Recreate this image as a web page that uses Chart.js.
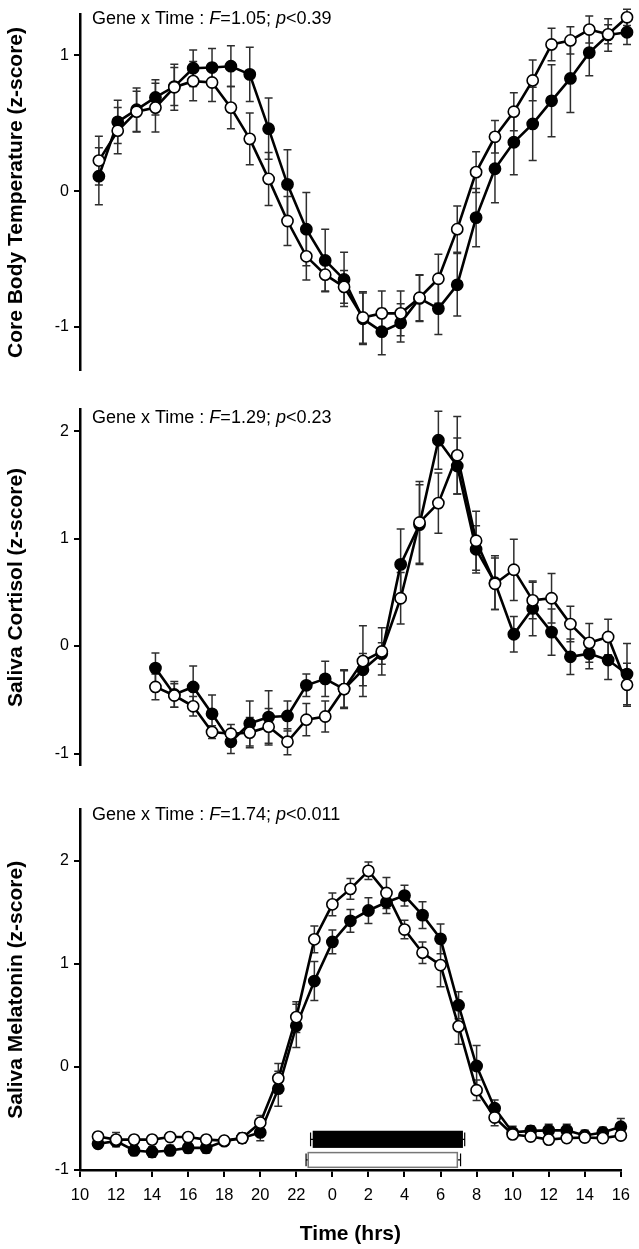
<!DOCTYPE html>
<html><head><meta charset="utf-8">
<script src="https://cdn.jsdelivr.net/npm/chart.js@4.4.1/dist/chart.umd.min.js"></script>
<style>
html,body{margin:0;padding:0;background:#fff;}
body{width:639px;height:1249px;position:relative;overflow:hidden;}
canvas{position:absolute;left:0;}
</style></head><body>
<canvas id="c1" width="639" height="385" style="top:0px;width:639px;height:385px"></canvas>
<canvas id="c2" width="639" height="385" style="top:395px;width:639px;height:385px"></canvas>
<canvas id="c3" width="639" height="454" style="top:795px;width:639px;height:454px"></canvas>
<script>
// ---------- DATA ----------
// Core body temperature (z-score), hourly 11:00 -> 15:00 next day
const tempHours = [11,12,13,14,15,16,17,18,19,20,21,22,23,24,25,26,27,28,29,30,31,32,33,34,35,36,37,38,39];
const tempFilled = [0.11,0.51,0.60,0.69,0.77,0.905,0.91,0.92,0.86,0.46,0.05,-0.28,-0.51,-0.65,-0.94,-1.035,-0.97,-0.79,-0.865,-0.69,-0.195,0.165,0.36,0.495,0.665,0.83,1.02,1.15,1.17];
const tempFilledSem = [0.21,0.16,0.16,0.13,0.14,0.135,0.14,0.15,0.2,0.225,0.255,0.27,0.23,0.2,0.19,0.17,0.14,0.17,0.19,0.23,0.215,0.25,0.24,0.27,0.265,0.25,0.17,0.12,0.09];
const tempOpen = [0.225,0.445,0.585,0.615,0.765,0.81,0.80,0.615,0.385,0.09,-0.22,-0.48,-0.615,-0.705,-0.93,-0.90,-0.90,-0.785,-0.645,-0.28,0.14,0.40,0.585,0.815,1.08,1.11,1.19,1.155,1.28];
const tempOpenSem = [0.18,0.17,0.15,0.18,0.17,0.145,0.14,0.155,0.19,0.195,0.18,0.175,0.12,0.12,0.19,0.165,0.165,0.17,0.18,0.17,0.15,0.12,0.14,0.15,0.12,0.10,0.10,0.07,0.06];

// Saliva cortisol (z-score), hourly 14:00 -> 15:00 next day
const cortHours = [14,15,16,17,18,19,20,21,22,23,24,25,26,27,28,29,30,31,32,33,34,35,36,37,38,39];
const cortFilled = [-0.205,-0.45,-0.38,-0.63,-0.89,-0.72,-0.66,-0.65,-0.365,-0.305,-0.40,-0.22,-0.07,0.76,1.13,1.915,1.675,0.90,0.59,0.11,0.35,0.13,-0.10,-0.07,-0.13,-0.26];
const cortFilledSem = [0.14,0.12,0.195,0.175,0.11,0.21,0.245,0.14,0.105,0.165,0.18,0.15,0.1,0.33,0.37,0.27,0.26,0.22,0.25,0.165,0.255,0.215,0.165,0.14,0.18,0.285];
const cortOpen = [-0.38,-0.46,-0.56,-0.80,-0.815,-0.805,-0.75,-0.89,-0.685,-0.655,-0.40,-0.14,-0.05,0.445,1.15,1.33,1.775,0.98,0.58,0.71,0.425,0.445,0.205,0.03,0.085,-0.36];
const cortOpenSem = [0.12,0.11,0.09,0.06,0.085,0.14,0.17,0.12,0.15,0.145,0.17,0.33,0.22,0.24,0.38,0.28,0.36,0.275,0.24,0.285,0.17,0.23,0.165,0.18,0.165,0.2];

// Saliva melatonin (z-score), hourly 11:00 -> 16:00 next day
const melHours = [11,12,13,14,15,16,17,18,19,20,21,22,23,24,25,26,27,28,29,30,31,32,33,34,35,36,37,38,39,40];
const melFilled = [-0.745,-0.72,-0.81,-0.825,-0.81,-0.785,-0.785,-0.72,-0.69,-0.635,-0.21,0.40,0.835,1.215,1.42,1.52,1.60,1.665,1.475,1.245,0.60,0.01,-0.40,-0.635,-0.62,-0.615,-0.615,-0.665,-0.635,-0.58];
const melFilledSem = [0.04,0.04,0.05,0.05,0.05,0.05,0.05,0.04,0.05,0.08,0.17,0.21,0.19,0.115,0.11,0.125,0.11,0.10,0.13,0.145,0.13,0.2,0.08,0.06,0.05,0.06,0.06,0.05,0.05,0.08];
const melOpen = [-0.675,-0.705,-0.705,-0.705,-0.68,-0.68,-0.705,-0.715,-0.69,-0.54,-0.11,0.485,1.24,1.58,1.73,1.905,1.69,1.335,1.11,0.99,0.395,-0.225,-0.49,-0.655,-0.675,-0.705,-0.69,-0.685,-0.69,-0.665];
const melOpenSem = [0.04,0.07,0.04,0.04,0.04,0.04,0.04,0.04,0.04,0.07,0.145,0.15,0.13,0.11,0.10,0.085,0.15,0.09,0.105,0.21,0.175,0.1,0.08,0.04,0.04,0.04,0.04,0.04,0.04,0.04];

// Sleep episodes (hours, 24 = midnight): [filled group, open group]
const sleepOnset = [22.95, 22.66];
const sleepOnsetSem = [0.16, 0.12];
const sleepOffset = [31.2, 30.93];
const sleepOffsetSem = [0.14, 0.18];

// Axis ticks
const tempYTicks = [-1, 0, 1];
const cortYTicks = [-1, 0, 1, 2];
const melYTicks = [-1, 0, 1, 2];
const xTickValues = [10,12,14,16,18,20,22,24,26,28,30,32,34,36,38,40];
const xTickLabels = ['10','12','14','16','18','20','22','0','2','4','6','8','10','12','14','16'];

const statTexts = [
  ['Gene x Time : ', {i:'F'}, '=1.05; ', {i:'p'}, '<0.39'],
  ['Gene x Time : ', {i:'F'}, '=1.29; ', {i:'p'}, '<0.23'],
  ['Gene x Time : ', {i:'F'}, '=1.74; ', {i:'p'}, '<0.011']
];

// ---------- RENDERING ----------
const FONT = "'Liberation Sans', Arial, Helvetica, sans-serif";
Chart.defaults.font.family = FONT;
Chart.defaults.color = '#000';

const pts = (xs, ys) => xs.map((x, i) => ({x: x, y: ys[i]}));

const errBars = {
  id: 'errBars',
  beforeDatasetsDraw(chart) {
    const ctx = chart.ctx, xs = chart.scales.x, ys = chart.scales.y;
    ctx.save();
    ctx.strokeStyle = '#2e2e2e';
    ctx.lineWidth = 1.5;
    chart.data.datasets.forEach(ds => {
      if (!ds.sem) return;
      ds.data.forEach((p, i) => {
        const e = ds.sem[i];
        const x = xs.getPixelForValue(p.x);
        const y1 = ys.getPixelForValue(p.y + e);
        const y2 = ys.getPixelForValue(p.y - e);
        ctx.beginPath();
        ctx.moveTo(x, y1); ctx.lineTo(x, y2);
        ctx.moveTo(x - 4, y1); ctx.lineTo(x + 4, y1);
        ctx.moveTo(x - 4, y2); ctx.lineTo(x + 4, y2);
        ctx.stroke();
      });
    });
    ctx.restore();
  }
};

const statText = {
  id: 'statText',
  afterDraw(chart, args, opts) {
    const ctx = chart.ctx;
    ctx.save();
    ctx.fillStyle = '#000';
    ctx.textBaseline = 'middle';
    let x = opts.x;
    opts.parts.forEach(part => {
      const italic = typeof part === 'object';
      const s = italic ? part.i : part;
      ctx.font = (italic ? 'italic ' : '') + opts.size + 'px ' + FONT;
      ctx.fillText(s, x, opts.y);
      x += ctx.measureText(s).width;
    });
    ctx.restore();
  }
};

const sleepBars = {
  id: 'sleepBars',
  beforeDatasetsDraw(chart, args, opts) {
    const ctx = chart.ctx, xs = chart.scales.x, ys = chart.scales.y;
    ctx.save();
    opts.rows.forEach((row, k) => {
      const x1 = xs.getPixelForValue(sleepOnset[k]);
      const x2 = xs.getPixelForValue(sleepOffset[k]);
      const xe1 = xs.getPixelForValue(sleepOnset[k] - sleepOnsetSem[k]);
      const xe2 = xs.getPixelForValue(sleepOffset[k] + sleepOffsetSem[k]);
      const yT = ys.getPixelForValue(row.top);
      const yB = ys.getPixelForValue(row.bottom);
      const yM = (yT + yB) / 2;
      ctx.strokeStyle = '#000';
      ctx.lineWidth = 1.2;
      ctx.beginPath();
      ctx.moveTo(xe1, yM); ctx.lineTo(x1, yM);
      ctx.moveTo(x2, yM); ctx.lineTo(xe2, yM);
      ctx.moveTo(xe1, yT + 1); ctx.lineTo(xe1, yB - 1);
      ctx.moveTo(xe2, yT + 1); ctx.lineTo(xe2, yB - 1);
      ctx.stroke();
      ctx.fillStyle = row.fill;
      ctx.fillRect(x1, yT, x2 - x1, yB - yT);
      ctx.strokeStyle = row.stroke;
      ctx.lineWidth = 1.5;
      ctx.strokeRect(x1, yT, x2 - x1, yB - yT);
    });
    ctx.restore();
  }
};

function series(hours, vals, sem, filled) {
  return {
    data: pts(hours, vals),
    sem: sem,
    borderColor: '#000',
    borderWidth: 2.6,
    pointRadius: 5.6,
    pointBorderWidth: 1.6,
    pointBorderColor: '#000',
    pointBackgroundColor: filled ? '#000' : '#fff',
    fill: false,
    tension: 0,
    clip: false,
    order: filled ? 2 : 1
  };
}

function yAxis(min, max, ticks, title) {
  return {
    type: 'linear', min: min, max: max,
    afterBuildTicks: s => { s.ticks = ticks.map(v => ({value: v})); },
    afterFit: s => { s.width = 80; },
    grid: {display: true, drawOnChartArea: false, drawTicks: true, tickLength: 6, color: '#000', lineWidth: 2},
    border: {display: true, color: '#000', width: 2.5},
    ticks: {font: {size: 16}, color: '#000', padding: 5, callback: v => String(v)},
    title: {display: true, text: title, font: {size: 21, weight: 'bold'}, color: '#000', padding: {top: 4, bottom: 0}}
  };
}

function makeChart(id, datasets, y, x, pad, extraPlugins, pluginOpts) {
  return new Chart(document.getElementById(id), {
    type: 'line',
    data: {datasets: datasets},
    options: {
      responsive: false, animation: false, events: [],
      layout: {padding: pad},
      scales: {x: x, y: y},
      plugins: Object.assign({legend: {display: false}, tooltip: {enabled: false}}, pluginOpts)
    },
    plugins: [errBars, statText].concat(extraPlugins)
  });
}

const hiddenX = {type: 'linear', min: 10, max: 39, display: false};

makeChart('c1',
  [series(tempHours, tempFilled, tempFilledSem, true), series(tempHours, tempOpen, tempOpenSem, false)],
  yAxis(-1.32, 1.30, tempYTicks, 'Core Body Temperature (z-score)'),
  hiddenX, {top: 8, bottom: 8, left: 0, right: 12}, [],
  {statText: {x: 92, y: 19, size: 18, parts: statTexts[0]}});

makeChart('c2',
  [series(cortHours, cortFilled, cortFilledSem, true), series(cortHours, cortOpen, cortOpenSem, false)],
  yAxis(-1.11, 2.2, cortYTicks, 'Saliva Cortisol (z-score)'),
  hiddenX, {top: 8, bottom: 10, left: 0, right: 12}, [],
  {statText: {x: 92, y: 23, size: 18, parts: statTexts[1]}});

makeChart('c3',
  [series(melHours, melFilled, melFilledSem, true), series(melHours, melOpen, melOpenSem, false)],
  yAxis(-1, 2.5, melYTicks, 'Saliva Melatonin (z-score)'),
  {
    type: 'linear', min: 10, max: 40,
    afterBuildTicks: s => { s.ticks = xTickValues.map(v => ({value: v})); },
    afterFit: s => { s.height = 79; },
    grid: {display: true, drawOnChartArea: false, drawTicks: true, tickLength: 7, color: '#000', lineWidth: 2},
    border: {display: true, color: '#000', width: 2.5},
    ticks: {font: {size: 16.5}, color: '#000', padding: 9, maxRotation: 0, autoSkip: false,
      callback: v => xTickLabels[xTickValues.indexOf(v)]},
    title: {display: true, text: 'Time (hrs)', font: {size: 21, weight: 'bold'}, color: '#000', padding: {top: 0, bottom: 2}}
  },
  {top: 8, bottom: 0, left: 0, right: 12}, [sleepBars],
  {statText: {x: 92, y: 20, size: 18, parts: statTexts[2]},
   sleepBars: {rows: [
     {top: -0.626, bottom: -0.778, fill: '#000', stroke: '#000'},
     {top: -0.831, bottom: -0.974, fill: '#fff', stroke: '#777'}
   ]}});
</script>
</body></html>
